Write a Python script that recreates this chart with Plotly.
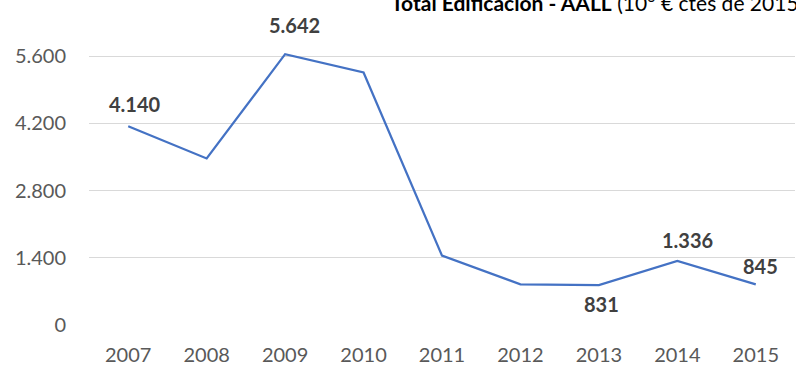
import plotly.graph_objects as go

years = ["2007", "2008", "2009", "2010", "2011", "2012", "2013", "2014", "2015"]
values = [4140, 3470, 5642, 5260, 1445, 848, 831, 1336, 845]
labeled = [True, False, True, False, False, False, True, True, True]
y_ticks = [0, 1400, 2800, 4200, 5600]
# label offsets in pixels (x, y) relative to point
label_dx = [7, 0, 9, 0, 0, 0, 3, 10, 5]
label_dy = [22, 0, 29, 0, 0, 0, -19, 21, 18]

def fmt(v):
    return f"{v:,}".replace(",", ".")

fig = go.Figure()
fig.add_trace(go.Scatter(
    x=years, y=values, mode="lines",
    line=dict(color="#4472C4", width=2.25),
    cliponaxis=False, hoverinfo="skip",
))

annotations = []
for i, (v, lab, dx, dy) in enumerate(zip(values, labeled, label_dx, label_dy)):
    if lab:
        annotations.append(dict(
            x=i, y=v, xref="x", yref="y", text=fmt(v), showarrow=False,
            xanchor="center", yanchor="middle", xshift=dx, yshift=dy,
            font=dict(family="Lato", size=20, color="#404040", weight="bold"),
        ))

annotations.append(dict(
    xref="paper", yref="paper", x=(389 - 89) / 706, y=(324.7 - 1) / 287.6,
    xanchor="left", yanchor="middle", showarrow=False,
    text="<b>Total Edificación - AALL</b> (10<sup>6</sup> € ctes de 2015)",
    font=dict(family="Lato", size=21, color="#000000"),
))

fig.update_layout(
    width=796, height=365,
    margin=dict(l=89, r=1, t=37, b=40, autoexpand=False),
    paper_bgcolor="white", plot_bgcolor="white",
    separators=",.",
    showlegend=False,
    font=dict(family="Lato", size=19, color="#595959"),
    xaxis=dict(type="category", range=[-0.5, 8.5], showgrid=False, showline=False, zeroline=False,
               ticks="", ticklabelstandoff=16, automargin=False,
               tickfont=dict(family="Lato", size=20, color="#595959")),
    yaxis=dict(range=[0, 6000], tickvals=y_ticks, ticktext=[fmt(v) for v in y_ticks],
               showgrid=True, gridcolor="#D9D9D9", gridwidth=1, automargin=False,
               zeroline=False, showline=False, ticks="", ticklabelstandoff=22,
               tickfont=dict(family="Lato", size=20, color="#595959")),
    annotations=annotations,
)

fig.write_html("out.html", config={"displayModeBar": False},
               post_script="document.body.style.margin='0';document.body.style.overflow='hidden';")
